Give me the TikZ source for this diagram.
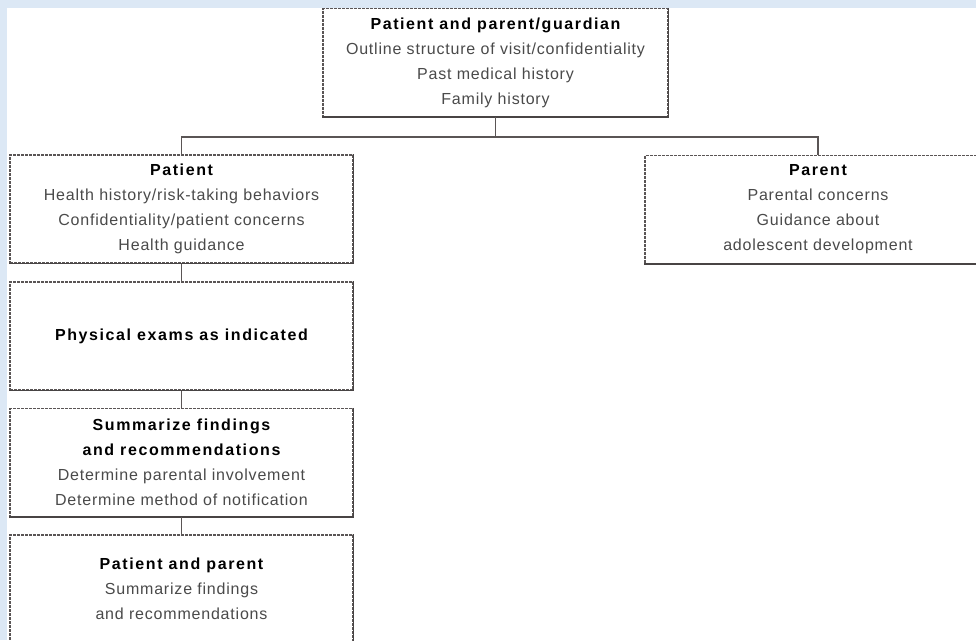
\documentclass[tikz,border=0pt]{standalone}
\usepackage{fontspec}
\setmainfont{Liberation Sans}[LetterSpace=5, BoldFeatures={LetterSpace=10}]
\definecolor{bgblue}{HTML}{DCE8F5}
\definecolor{boxline}{HTML}{5A5555}
\definecolor{bodytext}{HTML}{4A4A4A}
\tikzset{
  box/.style={draw=boxline, line width=1.2pt, dash pattern=on 3pt off 1pt, fill=white,
    minimum width=#1, minimum height=108pt, inner sep=0pt, align=center,
    font=\fontsize{16}{25}\selectfont, text=bodytext},
  box/.default=343pt,
  conn/.style={draw=boxline, line width=1.4pt},
  edge/.style={draw=boxline!80!black, line width=1.5pt},
}
\newcommand{\hd}[1]{{\bfseries\color{black}#1}}
\begin{document}
\begin{tikzpicture}[x=1pt,y=-1pt]
\fill[bgblue] (0,0) rectangle (976,640);
\fill[white] (7,8) rectangle (976,640);
\useasboundingbox (0,0) rectangle (976,640);

\node[box=345pt] (top) at (495.5,62.5) {\hd{Patient and parent/guardian}\\Outline structure of visit/confidentiality\\Past medical history\\Family history};
\node[box] (patient) at (181.5,209) {\hd{Patient}\\Health history/risk-taking behaviors\\Confidentiality/patient concerns\\Health guidance};
\node[box=346pt] (parent) at (818,209.5) {\hd{Parent}\\Parental concerns\\Guidance about\\adolescent development};
\node[box] (phys) at (181.5,336) {\hd{Physical exams as indicated}};
\node[box] (summ) at (181.5,462.5) {\hd{Summarize findings}\\\hd{and recommendations}\\Determine parental involvement\\Determine method of notification};
\node[box] (pp) at (181.5,589) {\hd{Patient and parent}\\Summarize findings\\and recommendations};

\foreach \n in {top,patient,parent,phys,summ,pp}
  \draw[edge] (\n.north east) -- (\n.south east) -- (\n.south west);

\coordinate (bus) at (495.5,137);
\draw[conn] (top.south) -- (bus);
\draw[conn] (patient.north) |- (bus) -| (parent.north);
\draw[conn] (patient.south) -- (phys.north);
\draw[conn] (phys.south) -- (summ.north);
\draw[conn] (summ.south) -- (pp.north);
\end{tikzpicture}
\end{document}
